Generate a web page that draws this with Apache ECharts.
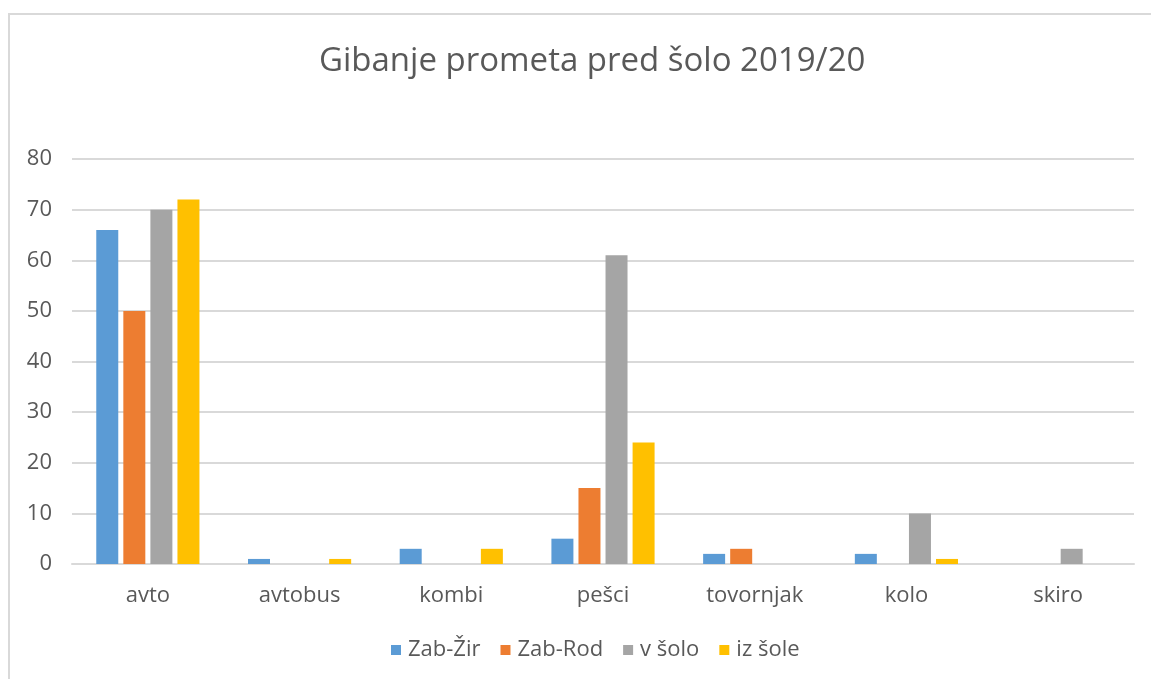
<!DOCTYPE html>
<html>
<head>
<meta charset="utf-8">
<script src="https://cdn.jsdelivr.net/npm/echarts@6/dist/echarts.min.js"></script>
<style>
  html, body { margin: 0; padding: 0; background: #fff; }
  #main { width: 1151px; height: 679px; }
  #frame { position: absolute; left: 8px; top: 13px; width: 1200px; height: 700px;
           border-left: 2px solid #d9d9d9; border-top: 2px solid #d9d9d9; pointer-events: none; }
</style>
</head>
<body>
<div id="frame"></div>
<div id="main"></div>
<script>
// data
let categories = ['avto', 'avtobus', 'kombi', 'pešci', 'tovornjak', 'kolo', 'skiro'];
let zabZir = [66, 1, 3, 5, 2, 2, 0];
let zabRod = [50, 0, 0, 15, 3, 0, 0];
let vSolo = [70, 0, 0, 61, 0, 10, 3];
let izSole = [72, 1, 3, 24, 0, 1, 0];
let yTicks = [0, 10, 20, 30, 40, 50, 60, 70, 80];

let font = '"Open Sans", "Noto Sans", sans-serif';
let textColor = '#595959';

let myChart = echarts.init(document.getElementById('main'));

function bar(name, data, color) {
    return {
        name: name,
        type: 'bar',
        data: data,
        barWidth: 22,
        barGap: '23%',
        itemStyle: { color: color }
    };
}

let option = {
    animation: false,
    textStyle: { fontFamily: font },
    title: {
        text: 'Gibanje prometa pred šolo 2019/20',
        left: 314,
        top: 40,
        textStyle: { fontFamily: font, fontSize: 33, fontWeight: 'normal', color: textColor }
    },
    legend: {
        bottom: 13,
        left: 386,
        icon: 'rect',
        itemWidth: 10,
        itemHeight: 10,
        itemGap: 20,
        textStyle: { fontFamily: font, fontSize: 22, color: textColor, padding: [0, 0, 0, 2] },
        data: ['Zab-Žir', 'Zab-Rod', 'v šolo', 'iz šole']
    },
    grid: { left: 72, right: 17, top: 159, bottom: 115 },
    xAxis: {
        type: 'category',
        data: categories,
        axisLine: { lineStyle: { color: '#d9d9d9', width: 2 } },
        axisTick: { show: false },
        axisLabel: { fontFamily: font, fontSize: 22, color: textColor, margin: 21 }
    },
    yAxis: {
        type: 'value',
        min: yTicks[0],
        max: yTicks[yTicks.length - 1],
        interval: 10,
        axisLine: { show: false },
        axisTick: { show: false },
        splitLine: { lineStyle: { color: '#d9d9d9', width: 2 } },
        axisLabel: { fontFamily: font, fontSize: 22, color: textColor, margin: 20 }
    },
    series: [
        bar('Zab-Žir', zabZir, '#5b9bd5'),
        bar('Zab-Rod', zabRod, '#ed7d31'),
        bar('v šolo', vSolo, '#a5a5a5'),
        bar('iz šole', izSole, '#ffc000')
    ]
};

myChart.setOption(option);
</script>
</body>
</html>
